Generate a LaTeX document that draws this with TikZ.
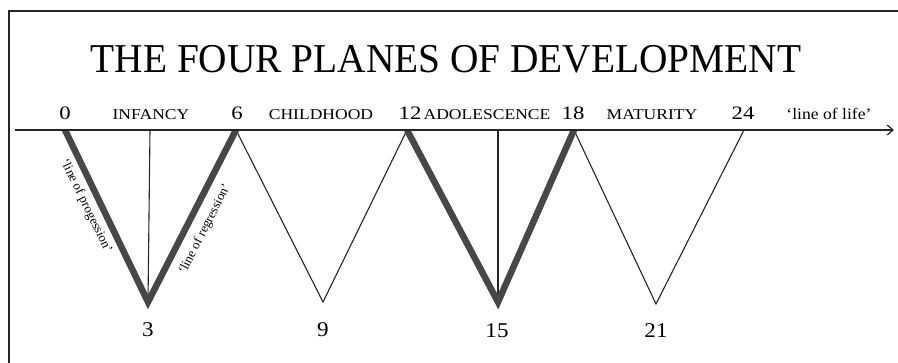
\documentclass[tikz,border=0pt]{standalone}
\usepackage{fontspec}
\setmainfont{Liberation Serif}
\usetikzlibrary{arrows.meta}
\begin{document}
\begin{tikzpicture}[x=1pt,y=-1pt,
  frameline/.style={line width=1.8pt, black!85},
  axisline/.style={line width=1.2pt, black!85},
  thinline/.style={line width=1.1pt, black!85},
  thickline/.style={line width=6.5pt, black!72, line join=miter, miter limit=20},
  agelabel/.style={font=\fontsize{19}{19}\selectfont, inner sep=0pt, anchor=base, xscale=1.2},
  botlabel/.style={font=\fontsize{21}{21}\selectfont, inner sep=0pt, anchor=base, xscale=1.1},
  stagelabel/.style={font=\fontsize{15}{15}\selectfont, inner sep=0pt, anchor=base, xscale=1.17},
  lifelabel/.style={font=\fontsize{16}{16}\selectfont, inner sep=0pt, anchor=base, xscale=1.1},
  slopelabel/.style={font=\fontsize{13}{13}\selectfont, inner sep=0pt},
  titlelabel/.style={font=\fontsize{41}{41}\selectfont, inner sep=0pt, anchor=base, xscale=0.96}]
\useasboundingbox (0,0) rectangle (898,363);

% frame
\coordinate (fbl) at (9,363);
\coordinate (ftl) at (9,11);
\coordinate (ftr) at (898,11);
\draw[frameline] (fbl) -- (ftl) -- (ftr);

% title
\node[titlelabel] (title) at (446,73) {THE FOUR PLANES OF DEVELOPMENT};

% axis points
\coordinate (s) at (15,130);
\coordinate (a0) at (65,130);
\coordinate (a6) at (236,130);
\coordinate (a12) at (407,130);
\coordinate (a18) at (574,130);
\coordinate (a24) at (744,130);
\coordinate (e) at (894,130);
\coordinate (b3) at (148,302);
\coordinate (b9) at (323,302);
\coordinate (b15) at (498,302);
\coordinate (b21) at (656,304);
\coordinate (m3) at (150,130);
\coordinate (m15) at (498,130);

% thin triangles
\draw[thinline] (a6) -- (b9) -- (a12);
\draw[thinline] (a18) -- (b21) -- (a24);
\draw[thinline] (m3) -- (b3);
\draw[thinline] (m15) -- (b15);

% thick triangles
\begin{scope}
\clip (0,130) rectangle (898,363);
\draw[thickline] (a0) -- (b3) -- (a6);
\draw[thickline] (a12) -- (b15) -- (a18);
\end{scope}

% axis
\draw[axisline, -{Straight Barb[length=6pt,width=10pt]}] (s) -- (e);

% top labels
\node[agelabel] (l0) at (65,120) {0};
\node[stagelabel] (linf) at (151,120) {INFANCY};
\node[agelabel] (l6) at (237,120) {6};
\node[stagelabel] (lchild) at (321,120) {CHILDHOOD};
\node[agelabel] (l12) at (410,120) {12};
\node[stagelabel] (ladol) at (487,120) {ADOLESCENCE};
\node[agelabel] (l18) at (573,120) {18};
\node[stagelabel] (lmat) at (652,120) {MATURITY};
\node[agelabel] (l24) at (743,120) {24};
\node[lifelabel] (llife) at (829,120) {`line of life'};

% bottom labels
\node[botlabel] (l3) at (148,337) {3};
\node[botlabel] (l9) at (323,337) {9};
\node[botlabel] (l15) at (497,338) {15};
\node[botlabel] (l21) at (656,338) {21};

% labels along the lines of infancy
\node[slopelabel, rotate=-64] (lprog) at (86,206) {`line of progession'};
\node[slopelabel, rotate=63] (lreg) at (205,229) {`line of regression'};
\end{tikzpicture}
\end{document}
